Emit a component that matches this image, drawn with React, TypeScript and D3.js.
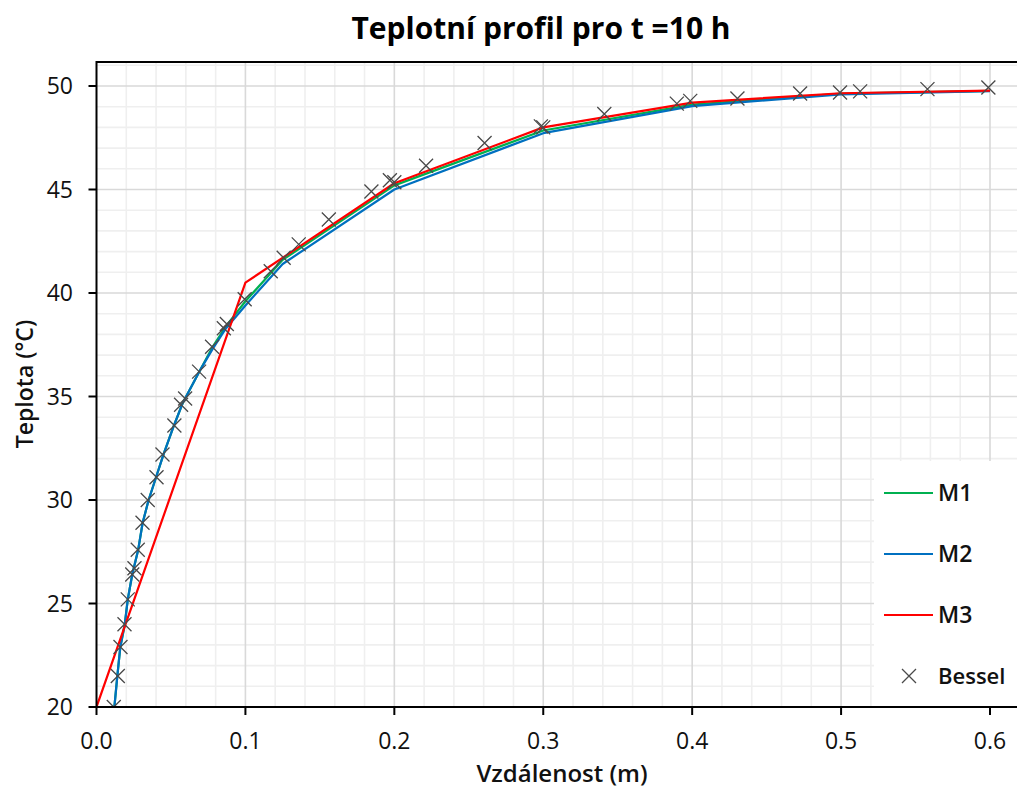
import React from "react";
import * as d3 from "d3";

// Temperature profile at t = 10 h: three numerical models vs. the Bessel (analytical) solution
const m1X = [0.012, 0.014, 0.016, 0.019, 0.021, 0.024, 0.028, 0.031, 0.035, 0.04, 0.045, 0.052, 0.058, 0.069, 0.078, 0.087, 0.1, 0.125, 0.2, 0.3, 0.4, 0.5, 0.6];
const m1Y = [20.0, 21.5, 22.9, 24.0, 25.2, 26.4, 27.6, 28.9, 30.0, 31.1, 32.2, 33.6, 34.7, 36.2, 37.4, 38.4, 39.6, 41.6, 45.2, 47.85, 49.1, 49.63, 49.76];

const m2X = [0.012, 0.014, 0.016, 0.019, 0.021, 0.024, 0.028, 0.031, 0.035, 0.04, 0.045, 0.052, 0.058, 0.069, 0.078, 0.087, 0.1, 0.125, 0.2, 0.3, 0.4, 0.5, 0.6];
const m2Y = [20.0, 21.5, 22.9, 24.0, 25.2, 26.4, 27.6, 28.9, 30.0, 31.1, 32.2, 33.6, 34.7, 36.2, 37.3, 38.3, 39.4, 41.4, 45.0, 47.72, 49.03, 49.6, 49.75];

const m3X = [0.0, 0.1, 0.2, 0.3, 0.4, 0.5, 0.6];
const m3Y = [20.0, 40.5, 45.3, 48.0, 49.2, 49.65, 49.78];

const besselX = [0.0116, 0.0143, 0.0161, 0.0188, 0.021, 0.024, 0.0255, 0.0277, 0.0309, 0.0344, 0.0403, 0.0443, 0.0523, 0.0568, 0.0595, 0.0689, 0.0776, 0.0855, 0.0875, 0.0995, 0.117, 0.1257, 0.1358, 0.156, 0.1846, 0.197, 0.2, 0.2213, 0.2606, 0.2984, 0.3, 0.341, 0.3897, 0.3987, 0.4304, 0.4725, 0.4993, 0.5128, 0.558, 0.5989];
const besselY = [20.0, 21.5, 22.9, 24.0, 25.2, 26.4, 26.7, 27.6, 28.9, 30.0, 31.1, 32.2, 33.6, 34.6, 34.9, 36.2, 37.4, 38.3, 38.5, 39.7, 41.05, 41.7, 42.35, 43.55, 44.9, 45.45, 45.35, 46.15, 47.25, 48.05, 48.0, 48.65, 49.15, 49.28, 49.4, 49.64, 49.69, 49.74, 49.85, 49.93];

const xTicks = [0.0, 0.1, 0.2, 0.3, 0.4, 0.5, 0.6];
const yTicks = [20, 25, 30, 35, 40, 45, 50];

const title = "Teplotní profil pro t =10 h";
const xLabel = "Vzdálenost (m)";
const yLabel = "Teplota (°C)";

const seriesNames = ["M1", "M2", "M3"];
const seriesColors = ["#00b050", "#0070c0", "#ff0000"];

const W = 1017;
const H = 791;
const FONT = "'Open Sans', 'Noto Sans', sans-serif";

export default function App() {
  const left = 96.5;
  const top = 62;
  const bottom = 707;
  const right = W;

  const x = d3.scaleLinear().domain([0, 0.6]).range([left, 990]);
  const y = d3.scaleLinear().domain([20, 50]).range([bottom, 86]);

  const xMax = x.invert(right);
  const yMax = y.invert(top);

  const minorX = d3.range(0, xMax + 1e-9, 0.02).filter((v) => Math.abs(Math.round(v * 10) - v * 10) > 1e-6);
  const majorX = d3.range(0, xMax + 1e-9, 0.1).filter((v) => v > 1e-9);
  const minorY = d3.range(20, yMax + 1e-9, 1).filter((v) => v % 5 !== 0);
  const majorY = d3.range(25, yMax + 1e-9, 5);

  const line = d3
    .line<[number, number]>()
    .x((d) => x(d[0]))
    .y((d) => y(d[1]));

  const series = [
    m1X.map((v, i) => [v, m1Y[i]] as [number, number]),
    m2X.map((v, i) => [v, m2Y[i]] as [number, number]),
    m3X.map((v, i) => [v, m3Y[i]] as [number, number]),
  ];

  const legendBox = { x: 874, y: 461, w: W - 874, h: bottom - 461 - 1 };
  const legendRows = [493, 554, 615, 676];

  const cross = (cx: number, cy: number, r: number, key: string | number) => (
    <path
      key={key}
      d={`M${cx - r},${cy - r}L${cx + r},${cy + r}M${cx - r},${cy + r}L${cx + r},${cy - r}`}
      stroke="#4a4a4a"
      strokeWidth={1.3}
      fill="none"
    />
  );

  return (
    <div style={{ position: "fixed", left: 0, top: 0 }}>
      <svg width={W} height={H} style={{ display: "block", background: "#fff", fontFamily: FONT }}>
        <defs>
          <clipPath id="plot-clip">
            <rect x={left} y={top} width={right - left} height={bottom - top} />
          </clipPath>
        </defs>

        {/* grid */}
        <g>
          {minorX.map((v) => (
            <line key={`mx${v}`} x1={x(v)} x2={x(v)} y1={top} y2={bottom} stroke="#efefef" strokeWidth={1.6} />
          ))}
          {minorY.map((v) => (
            <line key={`my${v}`} x1={left} x2={right} y1={y(v)} y2={y(v)} stroke="#efefef" strokeWidth={1.6} />
          ))}
          {majorX.map((v) => (
            <line key={`Mx${v}`} x1={x(v)} x2={x(v)} y1={top} y2={bottom} stroke="#d9d9d9" strokeWidth={1.6} />
          ))}
          {majorY.map((v) => (
            <line key={`My${v}`} x1={left} x2={right} y1={y(v)} y2={y(v)} stroke="#d9d9d9" strokeWidth={1.6} />
          ))}
        </g>

        {/* series */}
        <g clipPath="url(#plot-clip)">
          {series.map((s, i) => (
            <path key={seriesNames[i]} d={line(s) || ""} fill="none" stroke={seriesColors[i]} strokeWidth={2.2} strokeLinejoin="round" />
          ))}
          {besselX.map((v, i) => cross(x(v), y(besselY[i]), 7, i))}
        </g>

        {/* axes frame */}
        <line x1={left} x2={right} y1={top} y2={top} stroke="#000" strokeWidth={2} />
        <line x1={left} x2={left} y1={top - 1} y2={bottom + 1} stroke="#000" strokeWidth={2} />
        <line x1={left - 1} x2={right} y1={bottom} y2={bottom} stroke="#000" strokeWidth={2} />

        {/* y ticks */}
        {yTicks.map((v) => (
          <g key={`yt${v}`}>
            <line x1={left - 8} x2={left} y1={y(v)} y2={y(v)} stroke="#000" strokeWidth={2} />
            <text x={73} y={y(v)} dy="0.35em" textAnchor="end" fontSize={23} fontWeight={500} fill="#111">
              {v}
            </text>
          </g>
        ))}

        {/* x ticks */}
        {xTicks.map((v) => (
          <g key={`xt${v}`}>
            <line x1={x(v)} x2={x(v)} y1={bottom} y2={bottom + 8} stroke="#000" strokeWidth={2} />
            <text x={x(v)} y={749} textAnchor="middle" fontSize={23} fontWeight={500} fill="#111">
              {d3.format(".1f")(v)}
            </text>
          </g>
        ))}

        {/* legend */}
        <rect x={legendBox.x} y={legendBox.y} width={legendBox.w} height={legendBox.h} fill="#fff" />
        {seriesNames.map((n, i) => (
          <g key={`lg${n}`}>
            <line x1={884} x2={933} y1={legendRows[i]} y2={legendRows[i]} stroke={seriesColors[i]} strokeWidth={2.2} />
            <text x={938} y={legendRows[i]} dy="0.36em" fontSize={23} fontWeight={600} fill="#111">
              {n}
            </text>
          </g>
        ))}
        {cross(909, legendRows[3], 7, "lgb")}
        <text x={938} y={legendRows[3]} dy="0.36em" fontSize={22} fontWeight={600} fill="#111">
          Bessel
        </text>

        {/* titles */}
        <text x={541} y={39} textAnchor="middle" fontSize={30} fontWeight={700} fill="#000">
          {title}
        </text>
        <text x={562} y={782} textAnchor="middle" fontSize={24} fontWeight={600} fill="#111">
          {xLabel}
        </text>
        <text transform={`translate(33,384) rotate(-90)`} textAnchor="middle" fontSize={23} fontWeight={600} fill="#111">
          {yLabel}
        </text>
      </svg>
    </div>
  );
}
